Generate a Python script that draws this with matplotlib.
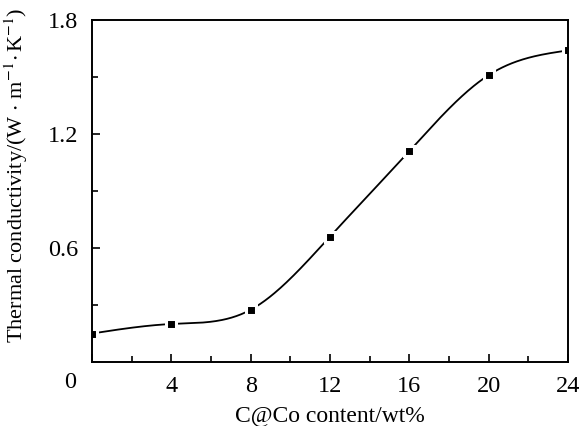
import numpy as np
import matplotlib
matplotlib.use('Agg')
import matplotlib.pyplot as plt
from matplotlib.ticker import MultipleLocator

plt.rcParams['font.family'] = ['Liberation Serif', 'DejaVu Serif']
plt.rcParams['mathtext.fontset'] = 'stix'

content = [0, 4, 8, 12, 16, 20, 24]
conductivity = [0.15, 0.20, 0.275, 0.66, 1.11, 1.51, 1.64]
x_ticks = [0, 4, 8, 12, 16, 20, 24]
y_ticks = [0, 0.6, 1.2, 1.8]


def natural_spline(x, y, xs):
    # plain natural cubic spline, just for drawing the smooth line
    x = np.asarray(x, float)
    y = np.asarray(y, float)
    n = len(x)
    h = np.diff(x)
    A = np.zeros((n, n))
    b = np.zeros(n)
    A[0, 0] = A[-1, -1] = 1
    for i in range(1, n - 1):
        A[i, i - 1] = h[i - 1]
        A[i, i] = 2 * (h[i - 1] + h[i])
        A[i, i + 1] = h[i]
        b[i] = 6 * ((y[i + 1] - y[i]) / h[i] - (y[i] - y[i - 1]) / h[i - 1])
    m = np.linalg.solve(A, b)
    idx = np.clip(np.searchsorted(x, xs) - 1, 0, n - 2)
    t = xs - x[idx]
    hi = h[idx]
    a = (x[idx + 1] - xs) / hi
    c = t / hi
    return (a * y[idx] + c * y[idx + 1]
            + ((a ** 3 - a) * m[idx] + (c ** 3 - c) * m[idx + 1]) * hi ** 2 / 6)


fig = plt.figure(figsize=(5.85, 4.26), dpi=100)
ax = fig.add_axes([92 / 585, 64 / 426, 476 / 585, 342 / 426])

xs = np.linspace(content[0], content[-1], 400)
ax.plot(xs, natural_spline(content, conductivity, xs), color='black', lw=1.3)
ax.plot(content, conductivity, 's', color='black', ms=6.5,
        mec='white', mew=2.2)

ax.set_xlim(0, 24)
ax.set_ylim(0, 1.8)
ax.set_xticks(x_ticks)
ax.set_yticks(y_ticks)
ax.set_xticklabels([''] + [str(v) for v in x_ticks[1:]])
ax.set_yticklabels([''] + ['%.1f' % v for v in y_ticks[1:]])
ax.xaxis.set_minor_locator(MultipleLocator(2))
ax.yaxis.set_minor_locator(MultipleLocator(0.3))
ax.tick_params(which='both', direction='in', top=False, right=False,
               labelsize=17.5, width=1.2)
ax.tick_params(which='major', length=6, pad=10)
ax.tick_params(which='minor', length=4)
for s in ax.spines.values():
    s.set_linewidth(1.4)

ax.text(-1.1, -0.055, '0', transform=ax.transData, fontsize=17.5,
        ha='center', va='top')

ax.set_xlabel('C@Co content/wt%', fontsize=17, labelpad=6)
ax.set_ylabel(r'Thermal conductivity/(W$\,\cdot\,$m$^{-1}$$\cdot\,$K$^{-1}$)',
              fontsize=16)
ax.yaxis.set_label_coords(-0.13, 0.545)

plt.savefig('out.png', dpi=100)
